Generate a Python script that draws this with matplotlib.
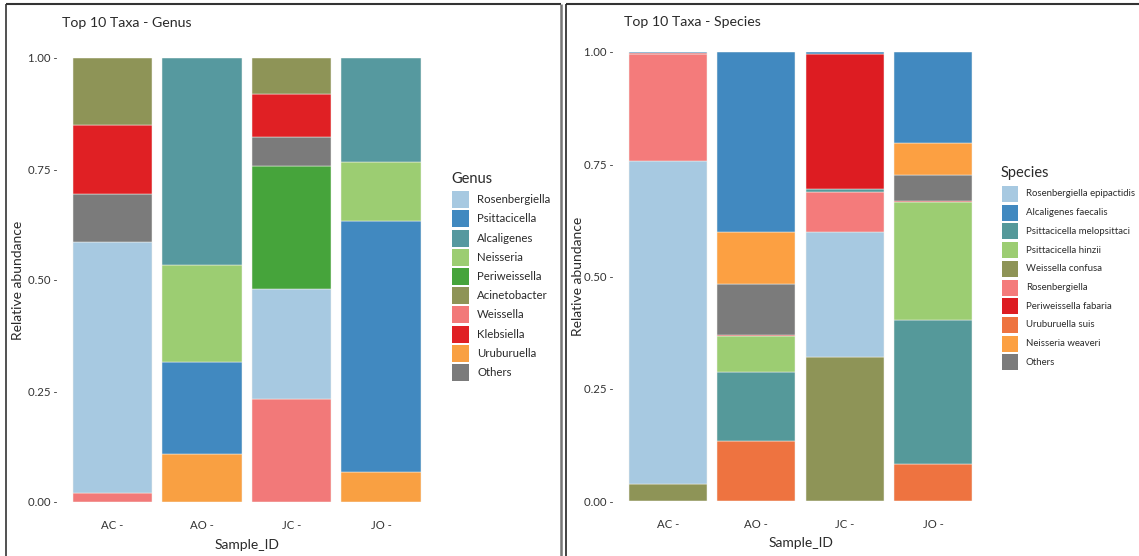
import matplotlib
matplotlib.use("Agg")
import matplotlib.pyplot as plt
from matplotlib.patches import Rectangle
from matplotlib.lines import Line2D

W, H = 1139, 556
plt.rcParams['font.family'] = ['Lato', 'DejaVu Sans']

samples = ["AC", "AO", "JC", "JO"]

# ---------------- Genus data ----------------
genus_taxa = ["Rosenbergiella", "Psittacicella", "Alcaligenes", "Neisseria", "Periweissella",
              "Acinetobacter", "Weissella", "Klebsiella", "Uruburuella", "Others"]
genus_colors = ["#a7c9e1", "#4189c0", "#56999f", "#9ccd72", "#46a43b",
                "#8e9457", "#f27979", "#e02024", "#f9a042", "#7b7b7b"]
# stacking order (bottom -> top) with values per sample
genus_AC = [("Weissella", 0.020), ("Rosenbergiella", 0.566), ("Others", 0.107),
            ("Klebsiella", 0.157), ("Acinetobacter", 0.150)]
genus_AO = [("Uruburuella", 0.109), ("Psittacicella", 0.207), ("Neisseria", 0.218),
            ("Alcaligenes", 0.466)]
genus_JC = [("Weissella", 0.231), ("Rosenbergiella", 0.249), ("Periweissella", 0.277),
            ("Others", 0.064), ("Klebsiella", 0.097), ("Acinetobacter", 0.082)]
genus_JO = [("Uruburuella", 0.068), ("Psittacicella", 0.565), ("Neisseria", 0.132),
            ("Alcaligenes", 0.235)]

# ---------------- Species data ----------------
species_taxa = ["Rosenbergiella epipactidis", "Alcaligenes faecalis", "Psittacicella melopsittaci",
                "Psittacicella hinzii", "Weissella confusa", "Rosenbergiella",
                "Periweissella fabaria", "Uruburuella suis", "Neisseria weaveri", "Others"]
species_colors = ["#a7c9e1", "#4189c0", "#55999a", "#9ccd72", "#8e9457",
                  "#f47b7b", "#dd1c22", "#ee7340", "#fca042", "#7b7b7b"]
species_AC = [("Weissella confusa", 0.037), ("Rosenbergiella epipactidis", 0.720),
              ("Rosenbergiella", 0.238), ("Periweissella fabaria", 0.002),
              ("Alcaligenes faecalis", 0.003)]
species_AO = [("Uruburuella suis", 0.134), ("Psittacicella melopsittaci", 0.154),
              ("Psittacicella hinzii", 0.079), ("Periweissella fabaria", 0.003),
              ("Others", 0.114), ("Neisseria weaveri", 0.114), ("Alcaligenes faecalis", 0.402)]
species_JC = [("Weissella confusa", 0.320), ("Rosenbergiella epipactidis", 0.280),
              ("Rosenbergiella", 0.089), ("Psittacicella melopsittaci", 0.005),
              ("Periweissella fabaria", 0.301), ("Alcaligenes faecalis", 0.005)]
species_JO = [("Uruburuella suis", 0.082), ("Psittacicella melopsittaci", 0.321),
              ("Psittacicella hinzii", 0.263), ("Periweissella fabaria", 0.002),
              ("Others", 0.059), ("Neisseria weaveri", 0.070), ("Alcaligenes faecalis", 0.203)]

yticks = [0.0, 0.25, 0.5, 0.75, 1.0]
ytick_labels = ["0.00 -", "0.25 -", "0.50 -", "0.75 -", "1.00 -"]
xtick_labels = ["AC -", "AO -", "JC -", "JO -"]

fig = plt.figure(figsize=(W / 100, H / 100), dpi=100)
fig.patch.set_facecolor("white")
TXT = "#2a2a2a"


def fx(px):
    return px / W


def fy(py):
    return 1 - py / H


def ax_rect(x0, x1, ytop, ybot):
    return [fx(x0), fy(ybot), (x1 - x0) / W, (ybot - ytop) / H]


def draw_legend(title, taxa, colors, title_x, title_y, key_x0, key_w, key_h,
                first_cy, row, text_x, fs):
    fig.text(fx(title_x), fy(title_y), title, fontsize=10.5, color=TXT,
             ha="left", va="center")
    for i, (name, col) in enumerate(zip(taxa, colors)):
        cy = first_cy + i * row
        fig.add_artist(Rectangle((fx(key_x0), fy(cy + key_h / 2)), key_w / W, key_h / H,
                                 transform=fig.transFigure, facecolor=col,
                                 edgecolor="none"))
        fig.text(fx(text_x), fy(cy), name, fontsize=fs, color=TXT,
                 ha="left", va="center")


def draw_panel(rect, stacks, taxa, colors, title, title_xy, ylab_right_x, xlab_top_y):
    ax = fig.add_axes(rect)
    cmap = dict(zip(taxa, colors))
    xs = list(range(1, len(samples) + 1))
    for x, stack in zip(xs, stacks):
        bottom = 0.0
        for name, val in stack:
            ax.bar(x, val, bottom=bottom, width=0.883, color=cmap[name],
                   edgecolor="#f2f2ec", linewidth=0.35)
            bottom += val
    ax.set_xlim(0.4, 4.6)
    ax.set_ylim(0, 1)
    ax.set_yticks(yticks)
    ax.set_yticklabels(ytick_labels, fontsize=8.2, color="#333333")
    ax.set_xticks(xs)
    ax.set_xticklabels(xtick_labels, fontsize=8.2, color="#333333")
    ax.tick_params(axis="both", length=0)
    ax.tick_params(axis="y", pad=1)
    ax.tick_params(axis="x", pad=13)
    for s in ax.spines.values():
        s.set_visible(False)
    ax.set_ylabel("Relative abundance", fontsize=10, color=TXT)
    ax.set_xlabel("Sample_ID", fontsize=10, color=TXT)
    pos = ax.get_position()
    ax.yaxis.set_label_coords((fx(ylab_right_x) - pos.x0) / pos.width, 0.5)
    ax.xaxis.set_label_coords(0.5, (fy(xlab_top_y) - pos.y0) / pos.height)
    fig.text(fx(title_xy[0]), fy(title_xy[1]), title, fontsize=10.2,
             color=TXT, ha="left", va="center")
    return ax


draw_panel(ax_rect(58.8, 434.7, 58, 502),
           [genus_AC, genus_AO, genus_JC, genus_JO], genus_taxa, genus_colors,
           "Top 10 Taxa - Genus", (62, 23), ylab_right_x=24, xlab_top_y=539)
draw_legend("Genus", genus_taxa, genus_colors, title_x=451, title_y=179,
            key_x0=452, key_w=17, key_h=17, first_cy=199.7, row=19.2,
            text_x=477, fs=8.2)

draw_panel(ax_rect(615, 986, 52, 501),
           [species_AC, species_AO, species_JC, species_JO], species_taxa, species_colors,
           "Top 10 Taxa - Species", (624, 22), ylab_right_x=584, xlab_top_y=537)
draw_legend("Species", species_taxa, species_colors, title_x=1001, title_y=173,
            key_x0=1002, key_w=16, key_h=16, first_cy=194, row=18.7,
            text_x=1026, fs=6.9)

# panel frames (screenshot borders)
def fline(x0, y0, x1, y1, color, lw):
    fig.add_artist(Line2D([fx(x0), fx(x1)], [fy(y0), fy(y1)],
                          transform=fig.transFigure, color=color, linewidth=lw,
                          solid_capstyle="butt"))

fline(6, 4, 561, 4, "#333333", 1.5)
fline(6, 4, 6, H, "#333333", 1.2)
fline(561, 4, 561, H, "#777777", 1.8)
fline(566, 4, W, 4, "#333333", 1.5)
fline(566, 4, 566, H, "#222222", 1.2)

fig.savefig("out.png", dpi=100, facecolor="white")
